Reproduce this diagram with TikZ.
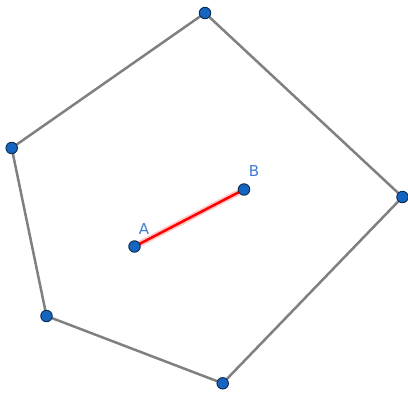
\documentclass[tikz,border=0pt]{standalone}
\usepackage{fontspec}
\setmainfont{DejaVu Sans}
\definecolor{ptblue}{HTML}{1565C0}
\definecolor{ptedge}{HTML}{0D2A4F}
\definecolor{lblblue}{HTML}{3D7BD0}
\definecolor{edgegray}{HTML}{808080}
\tikzset{
  pt/.style={circle,fill=ptblue,draw=ptedge,line width=0.9pt,inner sep=0pt,minimum size=11.5pt},
  edge/.style={draw=edgegray,line width=2.5pt},
  seg/.style={draw=red,line width=2.5pt},
  halo/.style={draw=red!22,line width=6pt},
  lbl/.style={text=lblblue,font=\fontsize{15}{17}\selectfont,inner sep=0pt}
}
\begin{document}
\begin{tikzpicture}[x=1pt,y=-1pt]
\useasboundingbox (0,0) rectangle (408,392);
\coordinate (P1) at (205,13);
\coordinate (P2) at (402.5,197);
\coordinate (P3) at (222.7,383.3);
\coordinate (P4) at (46.5,316);
\coordinate (P5) at (11.7,148);
\coordinate (A) at (134.5,246.5);
\coordinate (B) at (244,189.5);
\draw[edge,line join=round] (P1) -- (P2) -- (P3) -- (P4) -- (P5) -- cycle;
\draw[halo] (A) -- (B);
\draw[seg] (A) -- (B);
\foreach \p in {P1,P2,P3,P4,P5,A,B} \node[pt] at (\p) {};
\node[lbl] (lA) at (144,229) {A};
\node[lbl] (lB) at (254,171) {B};
\end{tikzpicture}
\end{document}
